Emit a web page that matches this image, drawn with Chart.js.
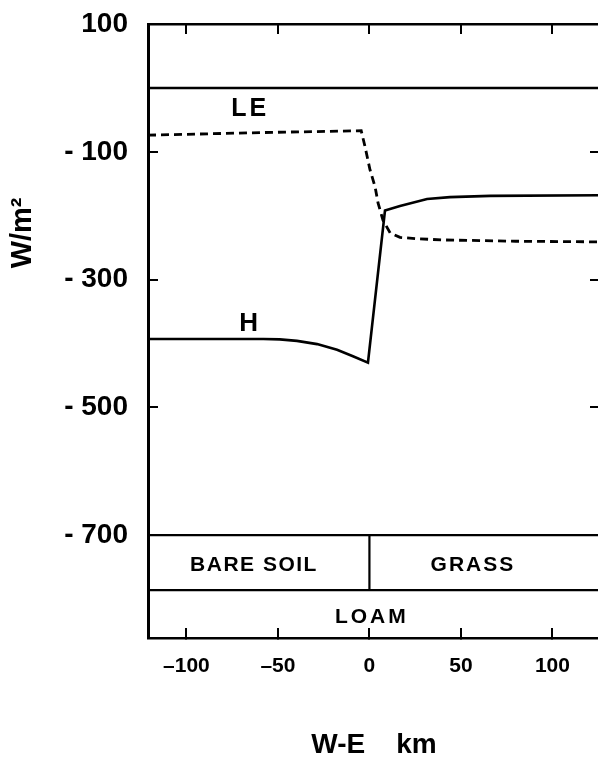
<!DOCTYPE html>
<html>
<head>
<meta charset="utf-8">
<script src="https://cdn.jsdelivr.net/npm/chart.js@4/dist/chart.umd.min.js"></script>
<style>
  html, body { margin: 0; padding: 0; background: #fff; overflow: hidden; }
  #wrap { width: 620px; height: 759px; }
</style>
</head>
<body>
<div id="wrap"><canvas id="chart"></canvas></div>
<script>
// tick values
const xTicks = [-100, -50, 0, 50, 100];
const yTicks = [100, -100, -300, -500, -700];

// latent heat flux LE (dashed)
const leX = [-121, -60, -4.5, -2.4, 0.3, 3.1, 4.7, 6.3, 7.4, 11.3, 16.7, 26, 40, 80, 126];
const leY = [-74, -70, -67, -92, -128, -155, -180, -196, -207, -227, -234, -236, -238, -240, -241];

// sensible heat flux H (solid)
const hX = [-121, -58, -49, -39.6, -28.6, -17.7, -9, -0.8, 8.5, 16.7, 31.5, 44, 66, 126];
const hY = [-393, -393, -393.6, -396, -401, -410, -420, -430, -192, -185, -174, -171, -169, -168];

// surface / soil boxes
const zeroLine = 0;
const surfaceTop = -700;
const soilTop = -786;
const boundaryX = 0;

const pts = (xs, ys) => xs.map((v, i) => ({ x: v, y: ys[i] }));

const fieldLabels = [
  { text: 'LE', x: -66, y: -33, size: 25, spacing: 3 },
  { text: 'H', x: -66, y: -369, size: 26, spacing: 0 },
  { text: 'BARE SOIL', x: -63.5, y: -747, size: 21, spacing: 1.5 },
  { text: 'GRASS', x: 56, y: -747, size: 21, spacing: 2 },
  { text: 'LOAM', x: 0.5, y: -829, size: 21, spacing: 3 }
];

const textPlugin = {
  id: 'fieldLabels',
  afterDatasetsDraw(chart) {
    const { ctx, scales: { x, y } } = chart;
    ctx.save();
    ctx.fillStyle = '#000';
    ctx.textAlign = 'center';
    ctx.textBaseline = 'middle';
    fieldLabels.forEach(l => {
      ctx.font = 'bold ' + l.size + 'px "Liberation Sans", Arial, sans-serif';
      ctx.letterSpacing = l.spacing + 'px';
      ctx.fillText(l.text, x.getPixelForValue(l.x) + l.spacing / 2, y.getPixelForValue(l.y));
    });
    // y axis title
    ctx.letterSpacing = '0px';
    ctx.font = 'bold 29px "Liberation Sans", Arial, sans-serif';
    ctx.translate(chart.chartArea.left - 125, y.getPixelForValue(-227));
    ctx.rotate(-Math.PI / 2);
    ctx.fillText('W/m²', 0, 0);
    ctx.restore();
  }
};

const axisFont = { family: '"Liberation Sans", Arial, sans-serif', weight: 'bold' };
const gridOpts = { drawOnChartArea: false, tickLength: -10, color: '#000', lineWidth: 2 };
const borderOpts = { color: '#000', width: 2.5 };

function fixX(s) { s.ticks = xTicks.map(v => ({ value: v })); }
function fixY(s) { s.ticks = yTicks.map(v => ({ value: v })); }
function noPad(s) { s.paddingTop = 0; s.paddingBottom = 0; s.paddingLeft = 0; s.paddingRight = 0; }

const lineDs = (data, w, dash) => ({
  data: data, borderColor: '#000', borderWidth: w, borderDash: dash || [],
  pointRadius: 0, tension: 0, fill: false
});

new Chart(document.getElementById('chart'), {
  type: 'line',
  data: {
    datasets: [
      lineDs(pts(leX, leY), 2.8, [8, 5]),
      lineDs(pts(hX, hY), 2.6),
      lineDs([{ x: -121, y: zeroLine }, { x: 126, y: zeroLine }], 2.5),
      lineDs([{ x: -121, y: surfaceTop }, { x: 126, y: surfaceTop }], 2.2),
      lineDs([{ x: -121, y: soilTop }, { x: 126, y: soilTop }], 2.2),
      lineDs([{ x: boundaryX, y: surfaceTop }, { x: boundaryX, y: soilTop }], 2.2)
    ]
  },
  options: {
    responsive: true,
    maintainAspectRatio: false,
    animation: false,
    layout: { padding: 0 },
    plugins: { legend: { display: false }, tooltip: { enabled: false } },
    scales: {
      x: {
        type: 'linear', position: 'bottom', min: -121, max: 126,
        afterBuildTicks: fixX,
        afterFit: s => { s.height = 121; noPad(s); },
        grid: gridOpts, border: borderOpts,
        ticks: {
          color: '#000', padding: 26, maxRotation: 0, autoSkip: false,
          font: Object.assign({ size: 21 }, axisFont),
          callback: v => v < 0 ? '\u2013' + Math.abs(v) : String(v)
        },
        title: {
          display: true, text: 'W-E    km', color: '#000',
          font: Object.assign({ size: 28, lineHeight: 1 }, axisFont),
          padding: { top: 0, bottom: 0 }
        }
      },
      xTop: {
        type: 'linear', position: 'top', min: -121, max: 126, display: true,
        afterBuildTicks: fixX,
        afterFit: s => { s.height = 24; noPad(s); },
        grid: gridOpts, border: borderOpts,
        ticks: { display: false }
      },
      y: {
        type: 'linear', position: 'left', min: -861, max: 100,
        afterBuildTicks: fixY,
        afterFit: s => { s.width = 148; noPad(s); },
        grid: gridOpts, border: { color: '#000', width: 3 },
        ticks: {
          color: '#000', padding: 30, autoSkip: false,
          font: Object.assign({ size: 28 }, axisFont),
          callback: v => v < 0 ? '- ' + Math.abs(v) : String(v)
        }
      },
      yRight: {
        type: 'linear', position: 'right', min: -861, max: 100, display: true,
        afterBuildTicks: fixY,
        afterFit: s => { s.width = 20; noPad(s); },
        grid: gridOpts, border: borderOpts,
        ticks: { display: false }
      }
    }
  },
  plugins: [textPlugin]
});
</script>
</body>
</html>
